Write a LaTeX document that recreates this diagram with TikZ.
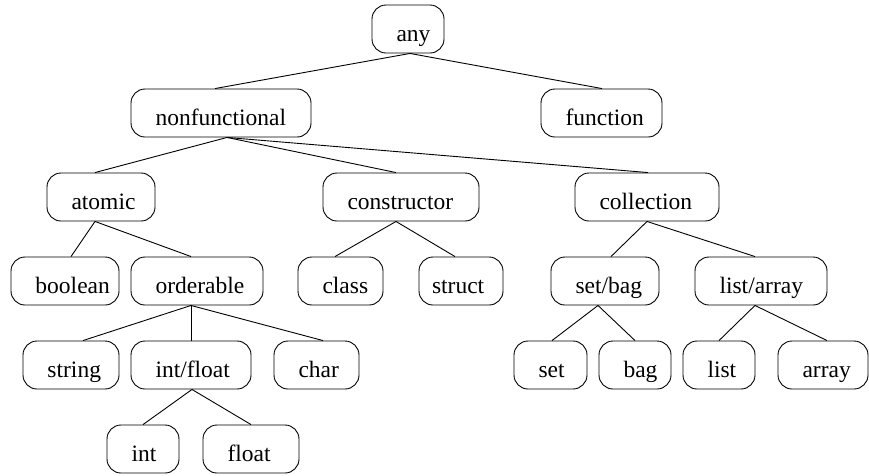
\documentclass[tikz,border=0pt]{standalone}
\usepackage{fontspec}
\setmainfont{Liberation Serif}
\newcommand\typenode[6]{%
  \node[typebox, minimum width=#3pt] (#1) at ({#2+#3/2},{#4+24}) {\makebox[#3pt][l]{\hspace{#5pt}#6}};}
\begin{document}
\begin{tikzpicture}[x=1pt,y=-1pt,
  typebox/.style={draw, rounded corners=14pt, line width=0.9pt, inner sep=0pt,
    minimum height=48pt, text height=36pt, text depth=12pt},
  edge/.style={line width=0.9pt},
  font=\fontsize{23.5}{28}\selectfont]
\useasboundingbox (0,0) rectangle (869,475);
% row 1
\typenode{any}{372}{72}{5}{24.5}{any}
% row 2
\typenode{nonfunctional}{131}{180}{89}{24.5}{nonfunctional}
\typenode{function}{541}{121}{89}{24.5}{function}
% row 3
\typenode{atomic}{47}{108}{173}{24.5}{atomic}
\typenode{constructor}{323}{156}{173}{24.5}{constructor}
\typenode{collection}{575}{144}{173}{24.5}{collection}
% row 4
\typenode{boolean}{11}{108}{257}{24.5}{boolean}
\typenode{orderable}{131}{132}{257}{24.5}{orderable}
\typenode{class}{298}{85}{257}{24.5}{class}
\typenode{struct}{419}{84}{257}{13}{struct}
\typenode{setbag}{551}{108}{257}{24.5}{set/bag}
\typenode{listarray}{695}{132}{257}{24.5}{list/array}
% row 5
\typenode{string}{23}{96}{341}{24.5}{string}
\typenode{intfloat}{131}{120}{341}{24.5}{int/float}
\typenode{char}{274}{85}{341}{24.5}{char}
\typenode{set}{514}{73}{341}{24.5}{set}
\typenode{bag}{599}{72}{341}{24.5}{bag}
\typenode{list}{683}{72}{341}{24.5}{list}
\typenode{array}{778}{90}{341}{24.5}{array}
% row 6
\typenode{int}{107}{72}{425}{24.5}{int}
\typenode{float}{203}{96}{425}{24.5}{float}
% connectors
\draw[edge] ([xshift=2pt]any.south) -- ([xshift=-6pt]nonfunctional.north);
\draw[edge] ([xshift=2pt]any.south) -- ([xshift=0.5pt]function.north);
\draw[edge] ([xshift=6pt]nonfunctional.south) -- ([xshift=-6pt]atomic.north);
\draw[edge] ([xshift=6pt]nonfunctional.south) -- ([xshift=-5pt]constructor.north);
\draw[edge] ([xshift=6pt]nonfunctional.south) -- ([xshift=1pt]collection.north);
\draw[edge] ([xshift=-6pt]atomic.south) -- ([xshift=6pt]boolean.north);
\draw[edge] ([xshift=-6pt]atomic.south) -- ([xshift=-6pt]orderable.north);
\draw[edge] ([xshift=-5pt]constructor.south) -- ([xshift=-5.5pt]class.north);
\draw[edge] ([xshift=-5pt]constructor.south) -- ([xshift=-6pt]struct.north);
\draw[edge] (collection.south) -- ([xshift=6pt]setbag.north);
\draw[edge] (collection.south) -- ([xshift=-6pt]listarray.north);
\draw[edge] ([xshift=-6pt]orderable.south) -- ([xshift=12pt]string.north);
\draw[edge] ([xshift=-6pt]orderable.south) -- (intfloat.north);
\draw[edge] ([xshift=-6pt]orderable.south) -- ([xshift=6.5pt]char.north);
\draw[edge] ([xshift=1pt]intfloat.south) -- (int.north);
\draw[edge] ([xshift=1pt]intfloat.south) -- (float.north);
\draw[edge] ([xshift=-7pt]setbag.south) -- ([xshift=1.5pt]set.north);
\draw[edge] ([xshift=-7pt]setbag.south) -- (bag.north);
\draw[edge] ([xshift=-6pt]listarray.south) -- (list.north);
\draw[edge] ([xshift=-6pt]listarray.south) -- ([xshift=4pt]array.north);
\end{tikzpicture}
\end{document}
